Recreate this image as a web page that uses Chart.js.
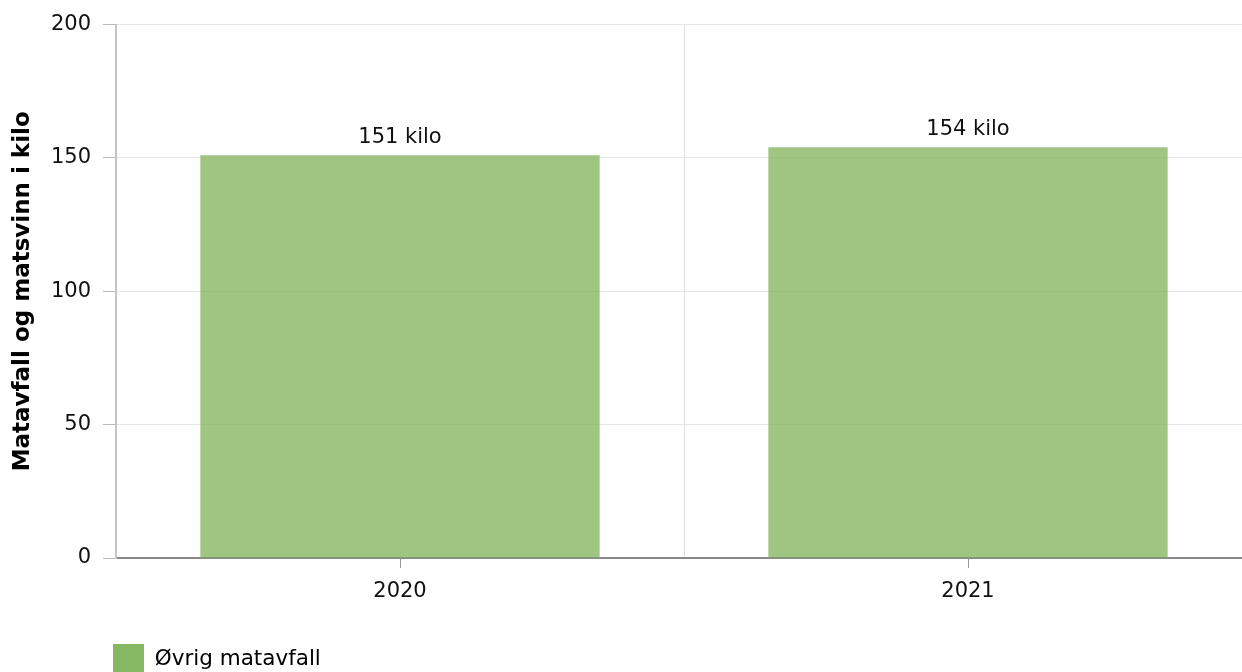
<!DOCTYPE html>
<html>
<head>
<meta charset="utf-8">
<script src="https://cdn.jsdelivr.net/npm/chart.js@4/dist/chart.umd.min.js"></script>
<style>
  html, body { margin: 0; padding: 0; background: #fff; overflow: hidden; }
  canvas { display: block; }
</style>
</head>
<body>
<!-- the plot runs a little past the right edge of the window, like the original -->
<canvas id="chart" width="1252" height="672"></canvas>
<script>
// data
const years = ['2020', '2021']
const foodWaste = [151, 154]
const seriesName = 'Øvrig matavfall'
const unit = 'kilo'
const yTicks = [0, 50, 100, 150, 200]
const yTitle = 'Matavfall og matsvinn i kilo'

const green = '#86b863'
const barGreen = 'rgba(134, 184, 99, 0.8)'
const fontFamily = '"DejaVu Sans", Verdana, sans-serif'

Chart.defaults.font.family = fontFamily
Chart.defaults.font.size = 21
Chart.defaults.color = '#111'

// value labels above bars
const barLabels = {
  id: 'barLabels',
  afterDatasetsDraw(chart) {
    const ctx = chart.ctx
    const meta = chart.getDatasetMeta(0)
    ctx.save()
    ctx.font = '21px ' + fontFamily
    ctx.fillStyle = '#111'
    ctx.textAlign = 'center'
    ctx.textBaseline = 'bottom'
    meta.data.forEach((bar, i) => {
      ctx.fillText(foodWaste[i] + ' ' + unit, bar.x, bar.y - 7)
    })
    ctx.restore()
  }
}

// short tick marks under each category (grid lines sit between them)
const centerTicks = {
  id: 'centerTicks',
  afterDraw(chart) {
    const x = chart.scales.x
    const ctx = chart.ctx
    ctx.save()
    ctx.strokeStyle = '#999'
    ctx.lineWidth = 1
    x.ticks.forEach((t, i) => {
      const px = Math.round(x.getPixelForTick(i)) + 0.5
      ctx.beginPath()
      ctx.moveTo(px, x.top + 1)
      ctx.lineTo(px, x.top + 10)
      ctx.stroke()
    })
    ctx.restore()
  }
}

// push the legend to the lower left, under the plot
const legendPlace = {
  id: 'legendPlace',
  afterLayout(chart) {
    const lg = chart.legend
    lg.left += 105
    lg.right += 105
    lg.top += 13
    lg.bottom += 13
  }
}

new Chart(document.getElementById('chart'), {
  type: 'bar',
  data: {
    labels: years,
    datasets: [
      {
        label: seriesName,
        data: foodWaste,
        backgroundColor: barGreen,
        borderWidth: 0,
        barPercentage: 1,
        categoryPercentage: 0.703
      }
    ]
  },
  options: {
    responsive: false,
    animation: false,
    devicePixelRatio: 1,
    layout: {
      padding: { top: 23, left: 0, right: 0, bottom: 0 }
    },
    plugins: {
      tooltip: { enabled: false },
      legend: {
        position: 'bottom',
        align: 'start',
        labels: {
          boxWidth: 31,
          boxHeight: 31,
          padding: 8,
          color: '#111',
          font: { size: 21.5 },
          generateLabels: chart => chart.data.datasets.map((ds, i) => ({
            text: ds.label,
            fillStyle: green,
            strokeStyle: green,
            lineWidth: 0,
            hidden: false,
            datasetIndex: i
          }))
        }
      }
    },
    scales: {
      x: {
        afterFit: s => { s.height = 65 },
        grid: {
          offset: true,
          drawTicks: false,
          color: '#e0e0e0',
          lineWidth: 1
        },
        border: { color: '#888', width: 2 },
        ticks: { padding: 21, color: '#111', font: { size: 21 } }
      },
      y: {
        min: 0,
        max: 200,
        afterFit: s => { s.width = 116 },
        afterBuildTicks: s => { s.ticks = yTicks.map(v => ({ value: v })) },
        grid: {
          color: '#e6e6e6',
          lineWidth: 1,
          tickLength: 13,
          tickColor: '#bbb'
        },
        border: { color: '#c4c4c4', width: 2 },
        ticks: { padding: 12, color: '#111', font: { size: 21 } },
        title: {
          display: true,
          text: yTitle,
          color: '#000',
          font: { size: 23, weight: 'bold' },
          padding: { top: 9, bottom: 0 }
        }
      }
    }
  },
  plugins: [barLabels, centerTicks, legendPlace]
})
</script>
</body>
</html>
